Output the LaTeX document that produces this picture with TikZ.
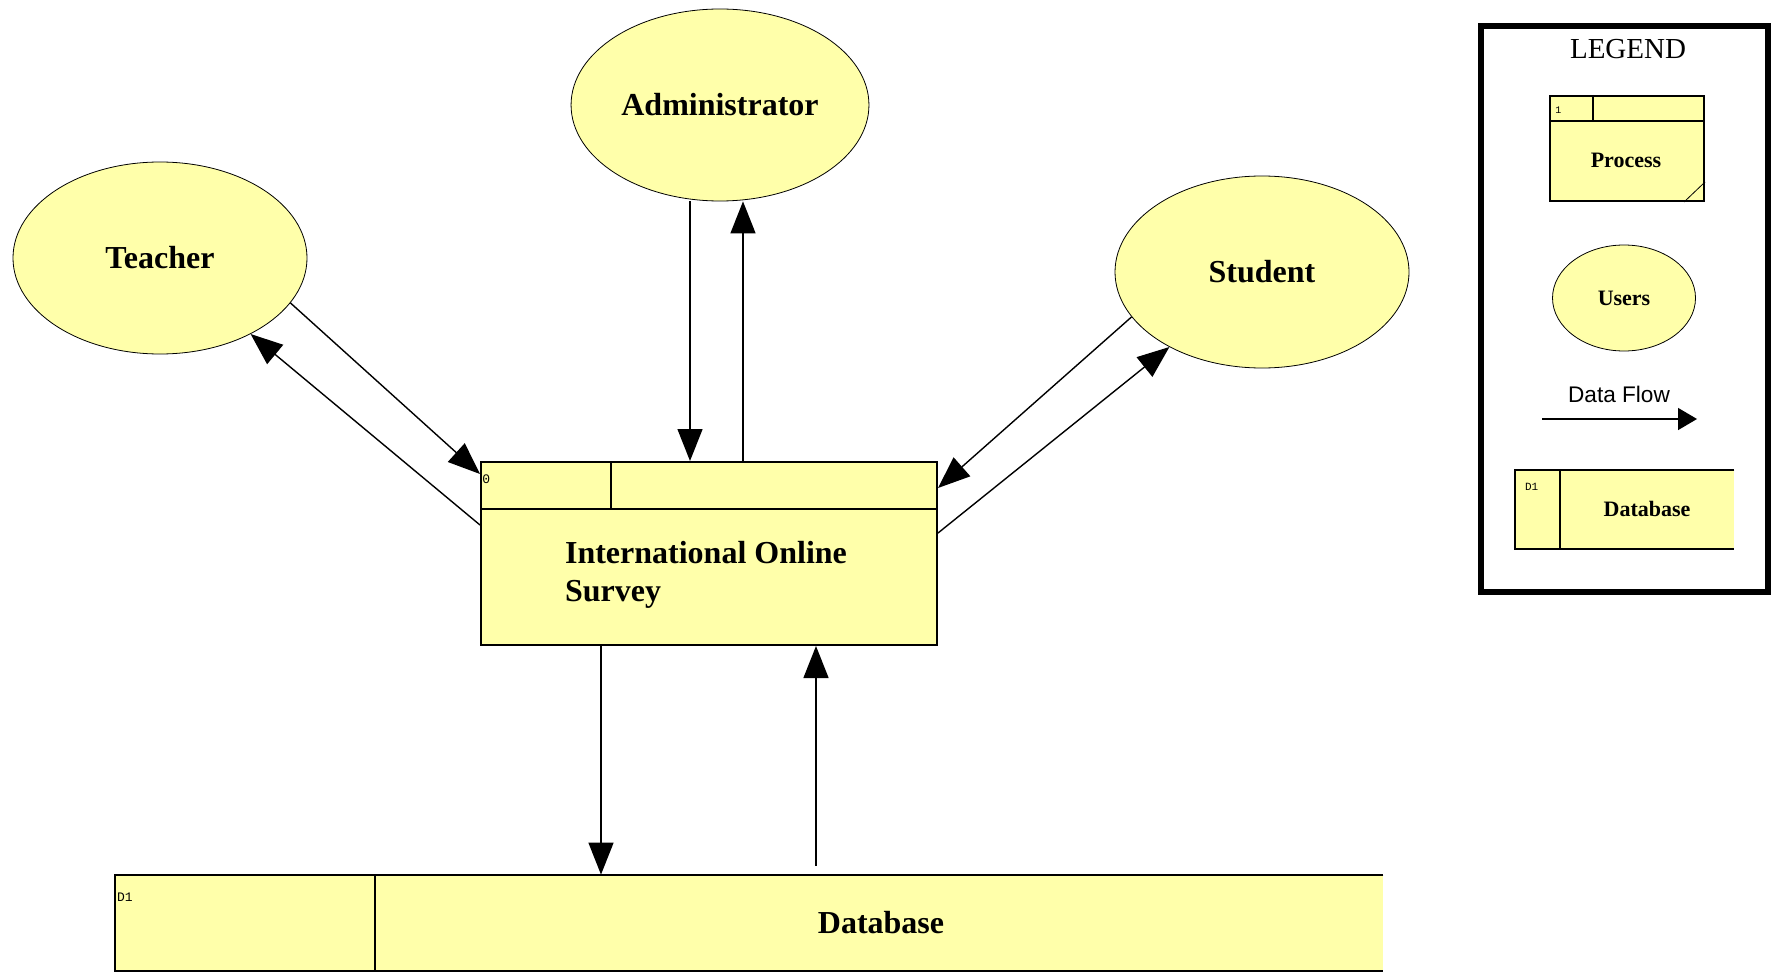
\documentclass[tikz,border=0pt]{standalone}
\usepackage{fontspec}
\setmainfont{Liberation Serif}
\newfontfamily\flowfont{Liberation Sans}
\newfontfamily\tagfont{Liberation Mono}
\usepackage{tikz}
\usetikzlibrary{shapes.geometric}
\usetikzlibrary{positioning}
\usetikzlibrary{arrows.meta}
\definecolor{dfdyellow}{HTML}{FFFFAA}
\tikzset{	user/.style={
		ellipse,
		draw,
		thin,
		fill=dfdyellow,
		minimum width=147pt,
		minimum height=96pt,
		font=\fontsize{16}{19}\selectfont\bfseries},
	procbox/.style={
		rectangle,
		draw,
		line width=1pt,
		fill=dfdyellow},
	storebox/.style={
		rectangle,
		fill=dfdyellow,
		inner sep=0pt},
	tag/.style={
		font=\tagfont\fontsize{6.5}{8}\selectfont,
		inner sep=1pt},
	boxline/.style={line width=1pt},
	flow/.style={
		draw,
		-{Triangle[length=16pt,width=12.5pt]},
		line width=0.7pt},
	flowkey/.style={
		draw,
		-{Triangle[length=9.5pt,width=11pt]},
		line width=0.7pt}
}
\begin{document}
\begin{tikzpicture}[x=0.5pt,y=-0.5pt]
			\useasboundingbox (0,0) rectangle (1775,973);
			% users
			\node[user] (teacher) at (160,258) {Teacher};
			\node[user] (admin) at (720,105) {Administrator};
			\node[user] (student) at (1262,272) {Student};
			% process
			\node[procbox, minimum width=228pt, minimum height=91.5pt] (survey) at (709,553.5) {};
			\draw[boxline] ([yshift=-24pt]survey.north west) -- ([yshift=-24pt]survey.north east);
			\draw[boxline] ([xshift=65.5pt]survey.north west) -- ([xshift=65.5pt,yshift=-24pt]survey.north west);
			\node[tag, anchor=west] (survey0) at ([yshift=-9pt]survey.north west) {0};
			\node[anchor=west, align=left, font=\fontsize{16}{19}\selectfont\bfseries] (surveytext) at (558,575) {International Online\\Survey};
			% store
			\node[storebox, minimum width=634pt, minimum height=48pt] (db) at (749,923) {};
			\draw[boxline] (db.north east) -- (db.north west) -- (db.south west) -- (db.south east);
			\draw[boxline] ([xshift=130pt]db.north west) -- ([xshift=130pt]db.south west);
			\node[tag, anchor=west] (dbtag) at ([yshift=-11.5pt]db.north west) {D1};
			\node[font=\fontsize{16}{19}\selectfont\bfseries] (dbtext) at (881,923) {Database};
			% flows
			\draw[flow] ([xshift=-15pt]admin.south) -- ([xshift=-15pt]admin.south |- survey.north);
			\draw[flow] ([xshift=17pt]survey.north) -- ([xshift=17pt]survey.north |- admin.south);
			\draw[flow] (teacher.-19) -- ([yshift=-6.5pt]survey.north west);
			\draw[flow] ([yshift=-32pt]survey.north west) -- (teacher.-40);
			\draw[flow] (student.199) -- ([yshift=-13.5pt]survey.north east);
			\draw[flow] ([yshift=-36pt]survey.north east) -- (student.219);
			\draw[flow] ([xshift=-54pt]survey.south) -- ([xshift=-54pt]survey.south |- db.north);
			\draw[flow] ([xshift=53.5pt,yshift=4.5pt]survey.south |- db.north) -- ([xshift=53.5pt]survey.south);
			% legend
			\node[draw, line width=3pt, minimum width=143.5pt, minimum height=283pt] (legend) at (1624.5,309) {};
			\node[font=\fontsize{14.5}{17}\selectfont] (legendtitle) at (1628,49) {LEGEND};
			\node[procbox, minimum width=77pt, minimum height=52.5pt] (lproc) at (1627,148.5) {};
			\draw[boxline] ([yshift=-13pt]lproc.north west) -- ([yshift=-13pt]lproc.north east);
			\draw[boxline] ([xshift=22pt]lproc.north west) -- ([xshift=22pt,yshift=-13pt]lproc.north west);
			\draw[thin] ([xshift=-10.5pt]lproc.south east) -- ([yshift=10pt]lproc.south east);
			\node[tag, anchor=west, font=\tagfont\fontsize{5}{6}\selectfont] (lproc1) at ([xshift=2pt,yshift=-7.5pt]lproc.north west) {1};
			\node[font=\fontsize{11}{13}\selectfont\bfseries] (lproctext) at (1626,160) {Process};
			\node[user, minimum width=71.5pt, minimum height=53pt, font=\fontsize{11}{13}\selectfont\bfseries] (users) at (1624,298) {Users};
			\node[font=\flowfont\fontsize{11.3}{13}\selectfont] (flowtext) at (1619,394) {Data Flow};
			\coordinate (flowstart) at (1542,419);
			\coordinate (flowend) at (1697,419);
			\draw[flowkey] (flowstart) -- (flowend);
			\node[storebox, minimum width=109.5pt, minimum height=39.5pt] (ldb) at (1624.5,509.5) {};
			\draw[boxline] (ldb.north east) -- (ldb.north west) -- (ldb.south west) -- (ldb.south east);
			\draw[boxline] ([xshift=22.5pt]ldb.north west) -- ([xshift=22.5pt]ldb.south west);
			\node[tag, anchor=west, font=\tagfont\fontsize{5.5}{7}\selectfont] (ldbtag) at ([xshift=4pt,yshift=-8.5pt]ldb.north west) {D1};
			\node[font=\fontsize{11}{13}\selectfont\bfseries] (ldbtext) at (1647,509) {Database};
		\end{tikzpicture}
\end{document}
